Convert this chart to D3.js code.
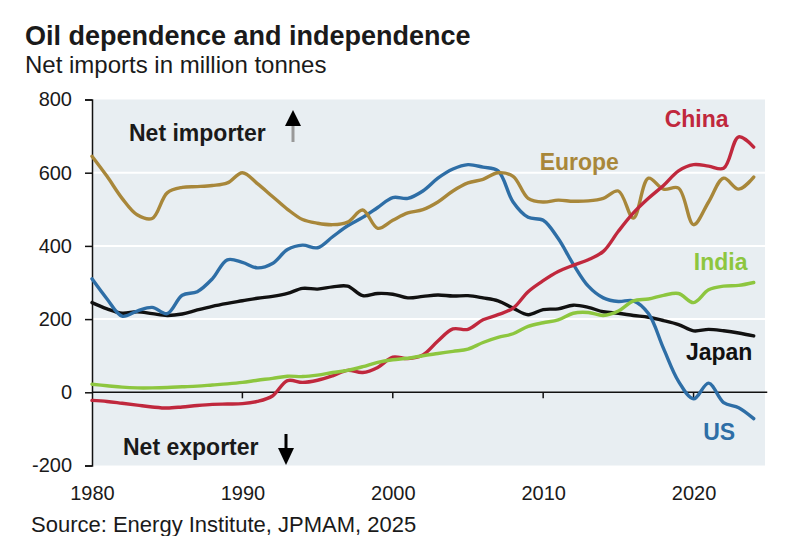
<!DOCTYPE html>
<html>
<head>
<meta charset="utf-8">
<script src="https://cdn.jsdelivr.net/npm/d3@7"></script>
<style>
  html, body { margin: 0; padding: 0; background: #fff; }
  svg { display: block; }
  text { font-family: "Liberation Sans", Arial, sans-serif; }
</style>
</head>
<body>
<div id="chart"></div>
<script>
// ---- Data (net oil imports, million tonnes) ----
const years = d3.range(1980, 2025);
const europe = [645,590,530,485,475,545,560,562,565,572,600,570,535,500,472,462,458,465,498,448,470,490,499,520,550,572,582,600,590,530,520,525,522,523,530,550,476,585,555,558,458,520,585,555,588];
const us     = [310,255,208,222,232,215,265,275,310,362,355,340,352,390,402,395,425,455,478,505,532,530,550,585,610,622,615,605,520,478,470,420,350,290,258,248,250,215,120,30,-18,25,-28,-42,-72];
const china  = [-22,-25,-30,-35,-40,-43,-40,-36,-33,-32,-31,-25,-10,32,27,33,45,60,54,68,96,92,102,140,173,172,198,212,230,275,305,330,347,362,385,440,490,530,565,605,622,618,612,698,670];
const india  = [22,18,14,12,12,13,15,17,20,23,27,33,38,44,43,47,54,60,70,82,89,93,100,106,112,118,136,150,160,180,190,198,216,218,210,222,250,255,265,270,245,280,290,292,300];
const japan  = [245,228,216,220,215,210,214,225,235,243,250,257,262,270,284,282,288,290,264,270,268,258,262,266,263,264,258,250,230,212,226,228,238,232,220,216,210,205,196,185,168,172,168,162,154];

const seriesNames  = ["Japan","US","Europe","China","India"];
const seriesValues = [japan, us, europe, china, india];
const seriesColors = ["#111111","#2E6EA6","#A8873A","#C0283D","#8DC63F"];

const yTicks = [-200, 0, 200, 400, 600, 800];
const xTicks = [1980, 1990, 2000, 2010, 2020];

// label anchor points (year, value) for direct labels
const labelPos = {
  China:  [2020.2, 726],
  Europe: [2012.4, 608],
  India:  [2021.8, 333],
  Japan:  [2021.7, 89],
  US:     [2021.7, -130]
};

// ---- Layout ----
const W = 792, H = 536;
const svg = d3.select("#chart").append("svg").attr("width", W).attr("height", H);

const x = d3.scaleLinear().domain([1980, 2024.75]).range([92, 765]);
const y = d3.scaleLinear().domain([-200, 800]).range([465.5, 99.5]);

const ink = "#1a1a1a";

// Title / subtitle
svg.append("text").attr("x", 25).attr("y", 45)
  .attr("font-size", 27).attr("font-weight", "bold").attr("fill", ink)
  .text("Oil dependence and independence");
svg.append("text").attr("x", 25).attr("y", 72.5)
  .attr("font-size", 24).attr("fill", ink)
  .text("Net imports in million tonnes");

// Plot background
svg.append("rect")
  .attr("x", x(1980)).attr("y", y(800))
  .attr("width", x(2024.75) - x(1980)).attr("height", y(-200) - y(800))
  .attr("fill", "#E8EEF2");

// White gridlines
svg.append("g").selectAll("line").data([200, 400, 600])
  .join("line")
  .attr("x1", x(1980)).attr("x2", x(2024.75))
  .attr("y1", d => y(d)).attr("y2", d => y(d))
  .attr("stroke", "#ffffff").attr("stroke-width", 2);

// Zero line with decade ticks
svg.append("line")
  .attr("x1", x(1980)).attr("x2", x(2024.9))
  .attr("y1", y(0)).attr("y2", y(0))
  .attr("stroke", "#111").attr("stroke-width", 1.5);
svg.append("g").selectAll("line").data(xTicks.slice(1))
  .join("line")
  .attr("x1", d => x(d)).attr("x2", d => x(d))
  .attr("y1", y(0)).attr("y2", y(0) + 6)
  .attr("stroke", "#111").attr("stroke-width", 1.5);

// Y axis
const yAxis = svg.append("g")
  .attr("transform", `translate(${x(1980)},0)`)
  .call(d3.axisLeft(y).tickValues(yTicks).tickSize(7).tickSizeOuter(7).tickPadding(13).tickFormat(d => String(d)));
yAxis.select(".domain").attr("stroke", "#111").attr("stroke-width", 1.5);
yAxis.selectAll(".tick line").attr("stroke", "#111").attr("stroke-width", 1.5);
yAxis.selectAll("text").attr("font-size", 20).attr("fill", ink)
  .attr("font-family", "'Liberation Sans', Arial, sans-serif");

// X axis (labels only)
const xAxis = svg.append("g")
  .attr("transform", `translate(0,${y(-200)})`)
  .call(d3.axisBottom(x).tickValues(xTicks).tickSize(0).tickPadding(20).tickFormat(d => String(d)));
xAxis.select(".domain").remove();
xAxis.selectAll("text").attr("font-size", 20).attr("fill", ink)
  .attr("font-family", "'Liberation Sans', Arial, sans-serif");

// Lines
const line = d3.line()
  .x((d, i) => x(years[i]))
  .y(d => y(d))
  .curve(d3.curveCatmullRom.alpha(0.5));

svg.append("g").selectAll("path").data(seriesValues)
  .join("path")
  .attr("d", d => line(d))
  .attr("fill", "none")
  .attr("stroke", (d, i) => seriesColors[i])
  .attr("stroke-width", 3.4)
  .attr("stroke-linejoin", "round")
  .attr("stroke-linecap", "round");

// Direct labels
svg.append("g").selectAll("text").data(seriesNames)
  .join("text")
  .attr("x", d => x(labelPos[d][0]))
  .attr("y", d => y(labelPos[d][1]))
  .attr("text-anchor", "middle")
  .attr("font-size", 23).attr("font-weight", "bold")
  .attr("fill", d => seriesColors[seriesNames.indexOf(d)])
  .text(d => d);

// Net importer / exporter annotations
svg.append("text").attr("x", 129).attr("y", 140.5)
  .attr("font-size", 23).attr("font-weight", "bold").attr("fill", ink)
  .text("Net importer");
svg.append("rect").attr("x", 291.5).attr("y", 122).attr("width", 3).attr("height", 20).attr("fill", "#999");
svg.append("path").attr("d", "M285,126 L293,110 L301,126 Z").attr("fill", "#000");

svg.append("text").attr("x", 123).attr("y", 455)
  .attr("font-size", 23).attr("font-weight", "bold").attr("fill", ink)
  .text("Net exporter");
svg.append("rect").attr("x", 284.5).attr("y", 434).attr("width", 3).attr("height", 16).attr("fill", "#000");
svg.append("path").attr("d", "M278,448 L286,465 L294,448 Z").attr("fill", "#000");

// Source
svg.append("text").attr("x", 31).attr("y", 532)
  .attr("font-size", 22).attr("fill", ink)
  .text("Source: Energy Institute, JPMAM, 2025");
</script>
</body>
</html>
